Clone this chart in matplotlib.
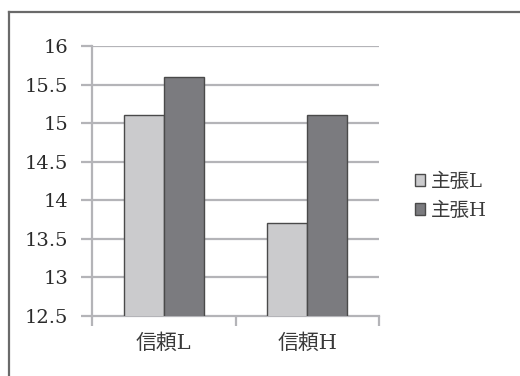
import matplotlib
matplotlib.use("Agg")
import matplotlib.pyplot as plt
import numpy as np
from matplotlib.lines import Line2D
from matplotlib.patches import Patch

categories = ["信頼L", "信頼H"]
series_names = ["主張L", "主張H"]
claim_low = [15.1, 13.7]
claim_high = [15.6, 15.1]
y_ticks = [12.5, 13, 13.5, 14, 14.5, 15, 15.5, 16]
y_tick_labels = ["12.5", "13", "13.5", "14", "14.5", "15", "15.5", "16"]

num_font = "DejaVu Serif"
mixed_font = ["DejaVu Serif", "Noto Sans CJK JP"]

fig = plt.figure(figsize=(5.2, 3.76), dpi=100)
fig.patch.set_facecolor("white")

# outer chart frame (left and top edges visible)
frame_col = "#6a6a6a"
fig.add_artist(Line2D([9/520, 9/520], [0, 1 - 12/376], color=frame_col, lw=1.6,
                      transform=fig.transFigure))
fig.add_artist(Line2D([9/520, 1], [1 - 12/376, 1 - 12/376], color=frame_col, lw=1.6,
                      transform=fig.transFigure))

ax = fig.add_axes([92/520, 60/376, (379 - 92)/520, (316 - 46)/376])

x = np.arange(len(categories))
w = 0.28
light = "#cbcbcd"
dark = "#7b7b7f"
edge = "#4a4a4a"
ax.bar(x - w/2, claim_low, width=w, color=light, edgecolor=edge, linewidth=1.0,
       zorder=3)
ax.bar(x + w/2, claim_high, width=w, color=dark, edgecolor=edge, linewidth=1.0,
       zorder=3)

ax.set_xlim(-0.5, 1.5)
ax.set_ylim(12.5, 16)

grid_col = "#b4b4b8"
for t in y_ticks[1:]:
    ax.axhline(t, color=grid_col, lw=1.6, zorder=1)

for s in ["top", "right"]:
    ax.spines[s].set_visible(False)
ax.spines["left"].set_color(grid_col)
ax.spines["left"].set_linewidth(1.6)
ax.spines["bottom"].set_color(grid_col)
ax.spines["bottom"].set_linewidth(1.6)

ax.set_yticks(y_ticks)
ax.set_yticklabels(y_tick_labels, fontfamily=num_font, fontsize=14, color="#2a2a2a")
ax.tick_params(axis="y", length=8, width=1.6, color=grid_col, pad=9)

ax.set_xticks([-0.5, 0.5, 1.5])
ax.set_xticklabels([])
ax.tick_params(axis="x", length=7, width=1.6, color=grid_col, direction="out")
for xi, lab in zip(x, categories):
    ax.text(xi, -0.1, lab, transform=ax.get_xaxis_transform(), ha="center",
            va="center", fontfamily=mixed_font, fontsize=15, color="#3a3a3a")

handles = [Patch(facecolor=light, edgecolor=edge, linewidth=1.0),
           Patch(facecolor=dark, edgecolor=edge, linewidth=1.0)]
leg = fig.legend(handles, series_names, loc="center left",
                 bbox_to_anchor=(397/520, 1 - 196/376), frameon=False,
                 handlelength=0.55, handleheight=0.55, handletextpad=0.3,
                 labelspacing=0.55, prop={"family": mixed_font, "size": 14})
for t in leg.get_texts():
    t.set_color("#3a3a3a")

fig.savefig("out.png", dpi=100, facecolor="white")
